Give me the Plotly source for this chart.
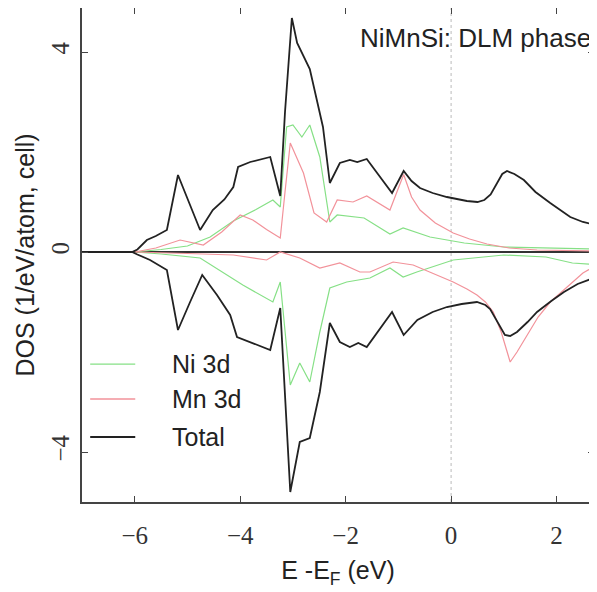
import plotly.graph_objects as go

# ---- data (E - E_F in eV, DOS in 1/eV/atom) ----
tot_up_e = [-7.0, -6.05, -5.95, -5.77, -5.6, -5.39, -5.18, -4.95, -4.76, -4.52, -4.3, -4.13, -4.04,
            -3.81, -3.6, -3.43, -3.24, -3.15, -3.02, -2.92, -2.68, -2.43, -2.30, -2.11, -1.92, -1.78,
            -1.6, -1.12, -0.9, -0.75, -0.59, -0.35, -0.08, 0.3, 0.5, 0.63, 0.75, 0.87, 0.97, 1.06,
            1.2, 1.38, 1.6, 1.88, 2.26, 2.5, 2.7]
tot_up = [0.0, 0.0, 0.05, 0.24, 0.32, 0.44, 1.54, 0.95, 0.44, 0.84, 1.05, 1.3, 1.7,
          1.8, 1.86, 1.9, 1.12, 2.8, 4.68, 4.18, 3.66, 2.5, 1.38, 1.78, 1.84, 1.8,
          1.86, 1.18, 1.62, 1.42, 1.28, 1.18, 1.1, 1.02, 1.0, 1.04, 1.15, 1.38, 1.56, 1.62,
          1.56, 1.44, 1.2, 0.98, 0.7, 0.6, 0.55]

tot_dn_e = [-7.0, -6.05, -5.95, -5.71, -5.39, -5.18, -4.95, -4.72, -4.44, -4.19, -4.06, -3.76,
            -3.43, -3.24, -3.15, -3.05, -2.87, -2.68, -2.49, -2.3, -2.11, -1.92, -1.76, -1.6,
            -1.12, -0.9, -0.64, -0.35, -0.08, 0.2, 0.49, 0.65, 0.74, 0.88, 1.02, 1.12, 1.25,
            1.45, 1.63, 1.9, 2.14, 2.4, 2.7]
tot_dn = [0.0, 0.0, -0.05, -0.16, -0.36, -1.56, -1.0, -0.46, -0.86, -1.26, -1.7, -1.82,
          -1.96, -1.12, -2.8, -4.8, -3.8, -3.72, -2.8, -1.42, -1.8, -1.9, -1.82, -1.9,
          -1.2, -1.66, -1.36, -1.2, -1.1, -1.04, -1.0, -1.06, -1.14, -1.4, -1.66, -1.68, -1.6,
          -1.4, -1.2, -0.98, -0.8, -0.64, -0.52]

mn_up_e = [-7.0, -6.0, -5.6, -5.14, -4.7, -4.35, -4.0, -3.76, -3.5, -3.24, -3.15, -3.05, -2.8,
           -2.6, -2.36, -2.16, -1.86, -1.6, -1.16, -0.9, -0.75, -0.59, -0.3, 0.04, 0.35, 0.68,
           1.1, 1.63, 2.7]
mn_up = [0.0, 0.0, 0.08, 0.24, 0.14, 0.4, 0.74, 0.64, 0.45, 0.28, 1.2, 2.18, 1.58,
         0.78, 0.6, 1.04, 1.0, 1.12, 0.84, 1.55, 1.1, 0.84, 0.58, 0.38, 0.26, 0.16,
         0.08, 0.04, 0.02]

mn_dn_e = [-7.0, -6.0, -5.0, -4.13, -3.5, -3.24, -2.87, -2.49, -2.11, -1.73, -1.54, -1.1, -0.72,
           0.04, 0.3, 0.49, 0.65, 0.8, 0.95, 1.12, 1.25, 1.44, 1.65, 1.88, 2.2, 2.5, 2.7]
mn_dn = [0.0, 0.0, -0.03, -0.06, -0.16, 0.0, -0.12, -0.32, -0.22, -0.4, -0.4, -0.2, -0.26,
         -0.6, -0.74, -0.86, -1.0, -1.2, -1.6, -2.2, -2.0, -1.66, -1.3, -1.0, -0.7, -0.42, -0.3]

ni_up_e = [-7.0, -6.0, -5.5, -5.0, -4.57, -4.13, -3.7, -3.38, -3.24, -3.12, -3.0, -2.83, -2.68,
           -2.49, -2.3, -2.16, -1.65, -1.16, -0.91, -0.4, 0.25, 1.0, 2.7]
ni_up = [0.0, 0.0, 0.05, 0.12, 0.3, 0.62, 0.85, 1.04, 0.9, 2.5, 2.54, 2.3, 2.54,
         1.9, 0.6, 0.74, 0.68, 0.36, 0.48, 0.3, 0.18, 0.1, 0.06]

ni_dn_e = [-7.0, -6.0, -5.5, -4.76, -3.95, -3.38, -3.24, -3.05, -2.87, -2.68, -2.49, -2.3, -1.98,
           -1.73, -1.54, -1.16, -0.91, -0.65, 0.04, 1.0, 1.8, 2.3, 2.7]
ni_dn = [0.0, 0.0, -0.04, -0.12, -0.66, -1.0, -0.6, -2.66, -2.22, -2.6, -1.6, -0.72, -0.6,
         -0.56, -0.52, -0.32, -0.5, -0.4, -0.16, -0.06, -0.1, -0.22, -0.25]

x_ticks = [-6, -4, -2, 0, 2]
x_tick_labels = ["\u22126", "\u22124", "\u22122", "0", "2"]
y_ticks = [-4, 0, 4]
y_tick_labels = ["\u22124", "0", "4"]

legend_names = ["Ni 3d", "Mn 3d", "Total"]

GREEN = "#86e086"
RED = "#f2929a"
BLACK = "#222222"

fig = go.Figure()
for xe, yv, col, w in [(ni_up_e, ni_up, GREEN, 1.2), (ni_dn_e, ni_dn, GREEN, 1.2),
                       (mn_up_e, mn_up, RED, 1.2), (mn_dn_e, mn_dn, RED, 1.2),
                       (tot_up_e, tot_up, BLACK, 1.8), (tot_dn_e, tot_dn, BLACK, 1.8)]:
    fig.add_trace(go.Scatter(x=xe, y=yv, mode="lines", line=dict(color=col, width=w),
                             showlegend=False, hoverinfo="skip"))

# vertical dotted line at E_F
fig.add_shape(type="line", x0=0, x1=0, y0=0, y1=1, xref="x", yref="paper",
              line=dict(color="#bbbbbb", width=1, dash="dot"), layer="below")

# manual legend
leg_cols = [GREEN, RED, BLACK]
leg_y = [0.279, 0.2085, 0.1316]
for name, col, yy in zip(legend_names, leg_cols, leg_y):
    fig.add_shape(type="line", xref="paper", yref="paper", x0=0.016, x1=0.104, y0=yy, y1=yy,
                  line=dict(color=col, width=1.8 if col == BLACK else 1.4))
    fig.add_annotation(xref="paper", yref="paper", x=0.172, y=yy, text=name, showarrow=False,
                       xanchor="left", yanchor="middle",
                       font=dict(family="Liberation Sans, Arial", size=25, color="#222"))

fig.add_annotation(xref="paper", yref="paper", x=0.998, y=0.939, text="NiMnSi: DLM phase",
                   showarrow=False, xanchor="right", yanchor="middle",
                   font=dict(family="Liberation Sans, Arial", size=26, color="#222"))

axis_common = dict(showline=True, linecolor="#444", linewidth=1.5, mirror="ticks",
                   ticks="inside", ticklen=6, tickcolor="#444", showgrid=False, automargin=False,
                   tickfont=dict(family="Liberation Serif, Times New Roman", size=25, color="#333"))

fig.update_layout(
    width=589, height=584,
    margin=dict(l=74, r=3, t=0, b=90),
    paper_bgcolor="white", plot_bgcolor="white",
    xaxis=dict(range=[-7.0, 2.71], tickvals=x_ticks, ticktext=x_tick_labels,
               zeroline=False, ticklabelstandoff=10,
               title=dict(text="E -E<sub>F</sub> (eV)", standoff=14,
                          font=dict(family="Liberation Sans, Arial", size=25, color="#222")),
               **axis_common),
    yaxis=dict(range=[-5.0, 4.88], tickvals=y_ticks, ticktext=y_tick_labels, tickangle=-90,
               zeroline=True, zerolinecolor="#333", zerolinewidth=2, ticklabelstandoff=1,
               title=dict(text="DOS (1/eV/atom, cell)", standoff=6,
                          font=dict(family="Liberation Sans, Arial", size=25, color="#222")),
               **axis_common),
)

fig.write_html("out.html")
